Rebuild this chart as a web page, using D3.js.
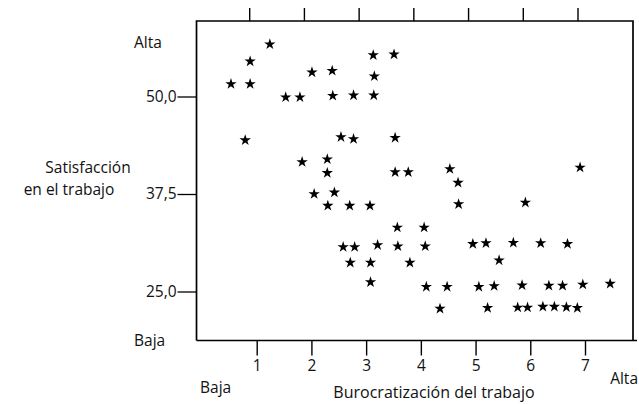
<!DOCTYPE html>
<html><head><meta charset="utf-8">
<script src="https://cdn.jsdelivr.net/npm/d3@7"></script>
<style>body{margin:0;background:#fff}svg{display:block}text{font-family:"Open Sans",sans-serif;fill:#111}</style>
</head><body><svg id="c" width="639" height="404"></svg>
<script>
const burocratizacion = [1.24,0.88,0.53,0.88,2.01,2.38,3.13,3.51,3.15,1.53,1.79,2.39,2.77,3.14,0.79,2.54,2.77,3.53,1.83,2.29,2.29,3.53,3.77,2.05,2.42,2.30,2.70,3.07,3.57,2.58,2.79,3.21,3.58,2.71,3.08,3.80,3.08,4.53,4.68,4.69,5.91,6.91,4.06,4.08,4.95,5.19,5.69,6.19,6.68,5.43,4.10,4.48,5.06,5.34,5.85,6.34,6.59,6.96,7.46,4.35,5.22,5.77,5.95,6.23,6.44,6.66,6.86];
const satisfaccion = [56.7,54.5,51.6,51.6,53.1,53.3,55.3,55.4,52.6,49.9,49.9,50.1,50.15,50.15,44.4,44.8,44.55,44.7,41.6,41.95,40.2,40.3,40.3,37.5,37.7,36.0,36.0,36.0,33.2,30.7,30.7,30.95,30.8,28.7,28.7,28.7,26.2,40.7,38.95,36.2,36.4,40.9,33.2,30.8,31.1,31.2,31.25,31.2,31.1,29.0,25.6,25.6,25.6,25.7,25.8,25.75,25.75,25.9,26.0,22.8,22.9,22.95,22.95,23.05,23.05,23.0,22.9];
const xTicks = [1,2,3,4,5,6,7];
const yTicks = [25,37.5,50];
const yTickLabels = ["25,0","37,5","50,0"];
const xTitle = "Burocratización del trabajo";
const yTitle = ["Satisfacción","en el trabajo"];
const lowLabel = "Baja", highLabel = "Alta";

const FS = 15.5;
const svg = d3.select("#c");
const x = d3.scaleLinear().domain([1,7]).range([256.7,585]);
const y = d3.scaleLinear().domain([25,50]).range([291.5,96.5]);
const pLeft = x(-0.1), pRight = 633, pTop = 21, pBottom = 340.5;

// frame
svg.append("path").attr("d",`M${pLeft},${pBottom}V${pTop}H${pRight}V${pBottom}M${pLeft},${pBottom}H${pRight+4}`)
  .attr("fill","none").attr("stroke","#000").attr("stroke-width",1.7);

// bottom axis
const gb = svg.append("g").attr("transform",`translate(0,${pBottom})`)
  .call(d3.axisBottom(x).tickValues(xTicks).tickSize(15).tickPadding(4).tickFormat(d=>d));
gb.select(".domain").remove();
gb.selectAll("line").attr("stroke","#000").attr("stroke-width",1.4);
gb.selectAll("text").attr("font-size",FS).style("font-family","'Open Sans',sans-serif").attr("fill","#111");

// top ticks (slightly shifted as in the print)
const gt = svg.append("g").attr("transform",`translate(-7.5,${pTop})`)
  .call(d3.axisTop(x).tickValues(xTicks).tickSize(13).tickFormat(""));
gt.select(".domain").remove();
gt.selectAll("line").attr("stroke","#000").attr("stroke-width",1.4);

// left axis
const gl = svg.append("g").attr("transform",`translate(${pLeft},0)`)
  .call(d3.axisLeft(y).tickValues(yTicks).tickSize(19).tickPadding(1).tickFormat((d,i)=>yTickLabels[i]));
gl.select(".domain").remove();
gl.selectAll("line").attr("stroke","#000").attr("stroke-width",1.3);
gl.selectAll("text").attr("font-size",FS).style("font-family","'Open Sans',sans-serif").attr("fill","#111");

// points
const star = d3.symbol().type(d3.symbolStar).size(40);
svg.append("g").selectAll("path").data(burocratizacion).join("path")
  .attr("d",star)
  .attr("transform",(d,i)=>`translate(${x(d)},${y(satisfaccion[i])})`)
  .attr("fill","#000");

// labels
svg.append("text").attr("x",134).attr("y",48).attr("font-size",FS).text(highLabel);
svg.append("text").attr("x",134).attr("y",346).attr("font-size",FS).text(lowLabel);
svg.append("text").attr("x",200).attr("y",393).attr("font-size",FS).text(lowLabel);
svg.append("text").attr("x",638).attr("y",384).attr("text-anchor","end").attr("font-size",FS).text(highLabel);
svg.append("text").attr("x",434).attr("y",398).attr("text-anchor","middle").attr("font-size",FS+0.5).text(xTitle);
svg.append("g").selectAll("text").data(yTitle).join("text")
  .attr("x",(d,i)=>i===0?88:69).attr("y",(d,i)=>173+i*22)
  .attr("text-anchor","middle").attr("font-size",FS).text(d=>d);
</script></body></html>
